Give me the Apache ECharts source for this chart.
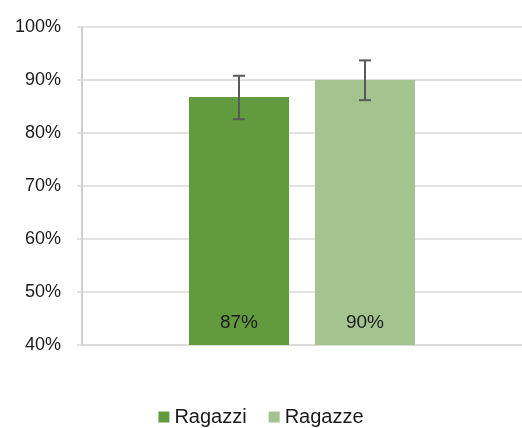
<!DOCTYPE html>
<html>
<head>
<meta charset="utf-8">
<script src="https://cdn.jsdelivr.net/npm/echarts@6/dist/echarts.min.js"></script>
<style>
  html, body { margin: 0; padding: 0; background: #fff; }
  #chart { width: 522px; height: 428px; }
</style>
</head>
<body>
<div id="chart"></div>
<script>
const seriesNames = ['Ragazzi', 'Ragazze']
const values = [86.8, 90.0]
const labels = ['87%', '90%']
const errLow = [82.6, 86.2]
const errHigh = [90.8, 93.7]
const colors = ['#629a3e', '#a3c48e']
const yTicks = [40, 50, 60, 70, 80, 90, 100]

const barWidth = 100
const barGapPx = 26

let chartDom = echarts.init(document.getElementById('chart'))

const barSeries = seriesNames.map((name, i) => ({
  name: name,
  type: 'bar',
  data: [values[i]],
  barWidth: barWidth,
  barGap: (barGapPx / barWidth * 100) + '%',
  itemStyle: { color: colors[i] },
  label: {
    show: true,
    position: 'insideBottom',
    distance: 13,
    formatter: () => labels[i],
    color: '#1a1a1a',
    fontSize: 19,
    fontFamily: 'Liberation Sans',
  },
}))

// error bars, centred on each bar of the single category
const errSeries = seriesNames.map((name, i) => ({
  type: 'custom',
  name: name + '_err',
  data: [[0, errLow[i], errHigh[i]]],
  z: 10,
  renderItem: (params, api) => {
    const offset = (i === 0 ? -1 : 1) * (barWidth + barGapPx) / 2
    const lo = api.coord([api.value(0), api.value(1)])
    const hi = api.coord([api.value(0), api.value(2)])
    const x = lo[0] + offset
    const cap = 6
    const style = { stroke: '#595959', lineWidth: 2 }
    return {
      type: 'group',
      children: [
        { type: 'line', shape: { x1: x, y1: lo[1], x2: x, y2: hi[1] }, style },
        { type: 'line', shape: { x1: x - cap, y1: lo[1], x2: x + cap, y2: lo[1] }, style },
        { type: 'line', shape: { x1: x - cap, y1: hi[1], x2: x + cap, y2: hi[1] }, style },
      ],
    }
  },
}))

const option = {
  animation: false,
  textStyle: { fontFamily: 'Liberation Sans' },
  grid: { left: 82, right: 0, top: 27, bottom: 83 },
  legend: {
    data: seriesNames,
    bottom: -4,
    icon: 'rect',
    itemWidth: 11,
    itemHeight: 11,
    itemGap: 22,
    textStyle: { fontSize: 20, color: '#1a1a1a', fontFamily: 'Liberation Sans' },
  },
  xAxis: {
    type: 'category',
    data: [''],
    axisLine: { show: true, lineStyle: { color: '#d9d9d9', width: 1.5 } },
    axisTick: { show: false },
    axisLabel: { show: false },
  },
  yAxis: {
    type: 'value',
    min: yTicks[0],
    max: yTicks[yTicks.length - 1],
    interval: 10,
    axisLine: { show: true, lineStyle: { color: '#bfbfbf', width: 1.5 } },
    axisTick: { show: true, length: 5, lineStyle: { color: '#d9d9d9', width: 1.5 } },
    axisLabel: {
      formatter: '{value}%',
      fontSize: 18,
      color: '#1a1a1a',
      margin: 21,
    },
    splitLine: { show: true, lineStyle: { color: '#d9d9d9', width: 1.5 } },
  },
  series: barSeries.concat(errSeries),
}

chartDom.setOption(option)
window.addEventListener('resize', () => {
  chartDom.resize()
})
</script>
</body>
</html>
